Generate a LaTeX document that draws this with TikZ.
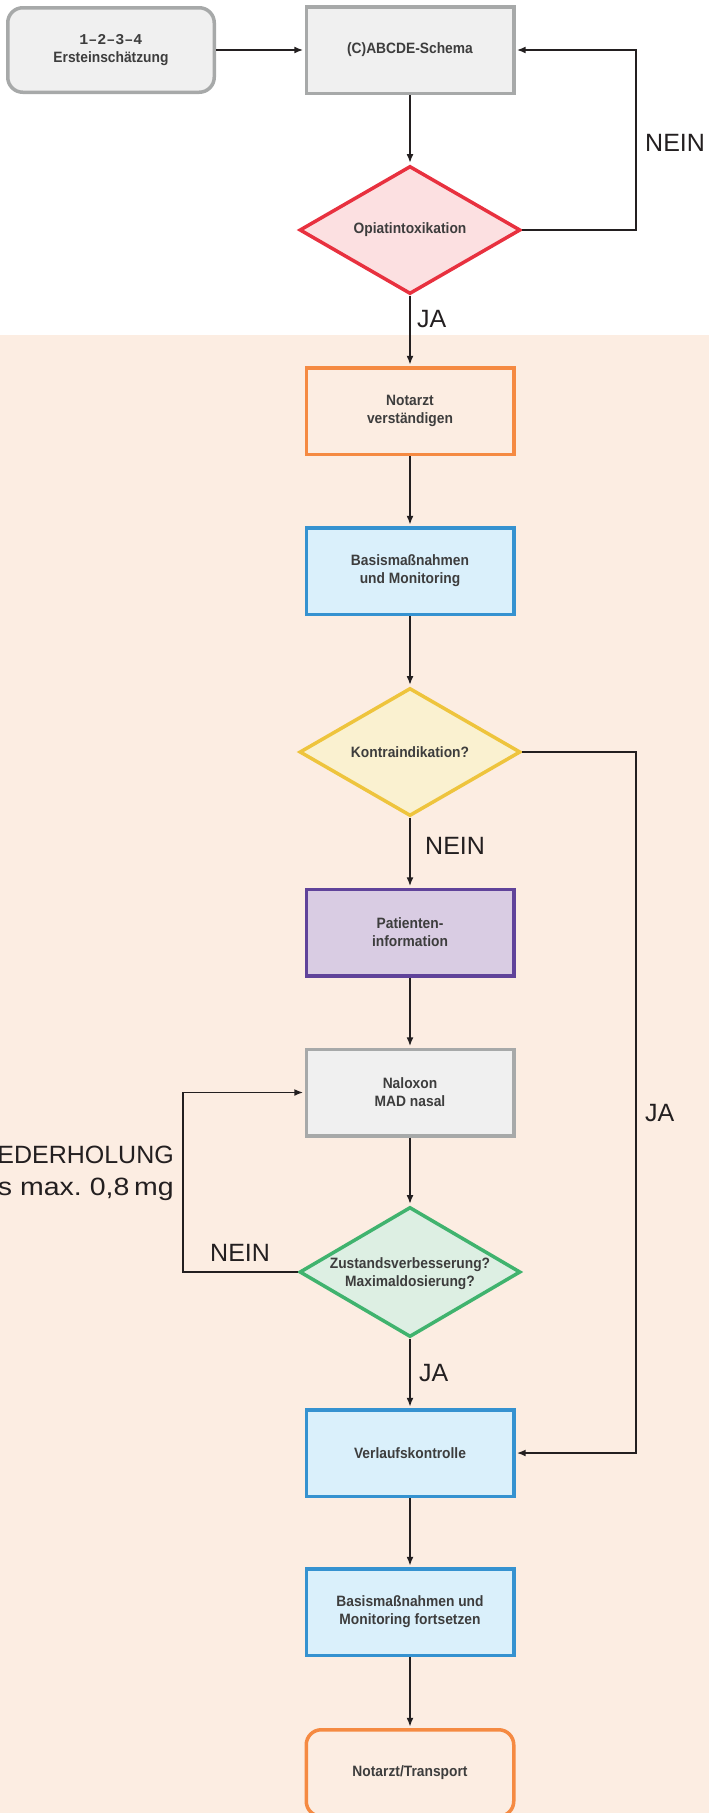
\documentclass[tikz,border=0pt]{standalone}
\usepackage{fontspec}
\setmainfont{Liberation Sans}
\setmonofont{Liberation Mono}
\newfontfamily\boxfont[FakeStretch=0.92]{Liberation Sans}
\usetikzlibrary{shapes.geometric,arrows.meta}
\definecolor{peach}{HTML}{FCEDE2}
\definecolor{grayF}{HTML}{F0F0F0}
\definecolor{grayB}{HTML}{A7A9A9}
\definecolor{redF}{HTML}{FCE0E1}
\definecolor{redB}{HTML}{E8313F}
\definecolor{orangeB}{HTML}{F58A42}
\definecolor{blueF}{HTML}{DAF0FB}
\definecolor{blueB}{HTML}{3592D0}
\definecolor{yellowF}{HTML}{FAF1D0}
\definecolor{yellowB}{HTML}{EEC43D}
\definecolor{purpleF}{HTML}{D9CCE3}
\definecolor{purpleB}{HTML}{60439A}
\definecolor{greenF}{HTML}{DDEFE3}
\definecolor{greenB}{HTML}{40B36E}
\definecolor{boxtext}{HTML}{3D3D3D}
\definecolor{lbltext}{HTML}{231F20}
\tikzset{
  box/.style={rectangle, line width=3.5pt, minimum width=207.5pt, minimum height=86.5pt,
    inner sep=0pt, align=center, text=boxtext, font=\boxfont\bfseries\fontsize{15}{18}\selectfont},
  dia/.style={diamond, line width=3.5pt, aspect=1.72, minimum width=221pt, minimum height=128pt,
    inner sep=0pt, align=center, text=boxtext, font=\boxfont\bfseries\fontsize{15}{18}\selectfont},
  arr/.style={line width=1.8pt, draw=lbltext, -{Latex[length=9pt,width=7pt]}, shorten >=1.2pt},
  lbl/.style={text=lbltext, font=\fontsize{25}{32}\selectfont, inner sep=0pt}
}
\begin{document}
\begin{tikzpicture}[x=1pt,y=-1pt]
\useasboundingbox (0,0) rectangle (709,1813);
\clip (0,0) rectangle (709,1813);
\fill[peach] (0,335) rectangle (709,1813);

% nodes
\node[box, draw=grayB, fill=grayF, rounded corners=15pt, minimum width=206.5pt, minimum height=84.5pt] (b1) at (111,50)
  {{\ttfamily\bfseries 1–2–3–4}\\Ersteinschätzung};
\node[box, draw=grayB, fill=grayF] (abc) at (410,50) {(C)ABCDE-Schema};
\node[dia, draw=redB, fill=redF] (opi) at (410,230) {Opiatintoxikation};
\node[box, draw=orangeB, fill=peach] (not) at (410,411) {Notarzt\\verständigen};
\node[box, draw=blueB, fill=blueF] (bas) at (410,571) {Basismaßnahmen\\und Monitoring};
\node[dia, draw=yellowB, fill=yellowF] (kon) at (410,752) {Kontraindikation?};
\node[box, draw=purpleB, fill=purpleF] (pat) at (410,932.5) {Patienten-\\information};
\node[box, draw=grayB, fill=grayF] (nal) at (410,1092.5) {Naloxon\\MAD nasal};
\node[dia, draw=greenB, fill=greenF, minimum height=130pt, aspect=1.7] (zus) at (410,1272) {\\[-4pt]Zustandsverbesserung?\\Maximaldosierung?};
\node[box, draw=blueB, fill=blueF] (ver) at (410,1453) {Verlaufskontrolle};
\node[box, draw=blueB, fill=blueF] (bas2) at (410,1612) {Basismaßnahmen und\\Monitoring fortsetzen};
\node[box, draw=orangeB, fill=peach, rounded corners=15pt] (tra) at (410,1773) {Notarzt/Transport};

% helper corners
\coordinate (rN) at (636,50);
\coordinate (rJ) at (636,1453);
\coordinate (lN) at (183,1092.5);

% connectors
\draw[arr] (b1) -- (abc);
\draw[arr] (abc) -- (opi);
\draw[arr] (opi.east) -| (rN) -- (abc.east);
\draw[arr] (opi) -- (not);
\draw[arr] (not) -- (bas);
\draw[arr] (bas) -- (kon);
\draw[arr] (kon) -- (pat);
\draw[arr] (kon.east) -| (rJ) -- (ver.east);
\draw[arr] (pat) -- (nal);
\draw[arr] (nal) -- (zus);
\draw[arr] (zus.west) -| (lN) -- (nal.west);
\draw[arr] (zus) -- (ver);
\draw[arr] (ver) -- (bas2);
\draw[arr] (bas2) -- (tra);

% labels
\node[lbl, anchor=west] (l1) at (645,143) {NEIN};
\node[lbl, anchor=west] (l2) at (417,319) {JA};
\node[lbl, anchor=west] (l3) at (425,846) {NEIN};
\node[lbl, anchor=west] (l4) at (210,1253) {NEIN};
\node[lbl, anchor=west] (l5) at (419,1373) {JA};
\node[lbl, anchor=west] (l6) at (645,1113) {JA};
\node[lbl, anchor=north east, align=right] (l7) at (174,1146)
  {WIEDERHOLUNG\\\scalebox{1.14}[1]{bis max.\ 0,8\,mg}\hspace{5pt}};
\end{tikzpicture}
\end{document}
